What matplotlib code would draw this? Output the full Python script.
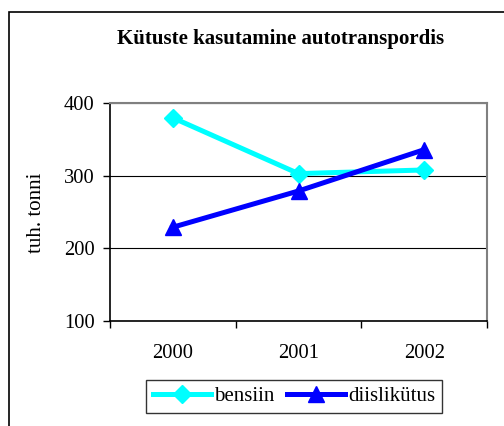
import matplotlib
matplotlib.use("Agg")
import matplotlib.pyplot as plt
from matplotlib.patches import Rectangle

years = ["2000", "2001", "2002"]
bensiin = [380, 303, 308]
diislikutus = [229, 279, 336]
yticks = [100, 200, 300, 400]

plt.rcParams['font.family'] = ['Liberation Serif', 'DejaVu Serif']

W, H = 504, 426
fig = plt.figure(figsize=(W / 100, H / 100), dpi=100)
# outer chart frame (right and bottom edges fall outside the image)
fig.patches.append(Rectangle((8.5 / W, -0.05), 1.2, 1 - 11.5 / H + 0.05,
                             transform=fig.transFigure, fill=False,
                             edgecolor='black', linewidth=1.2))

left, right, top, bottom = 110, 487, 103.3, 320.7
ax = fig.add_axes([left / W, 1 - bottom / H, (right - left) / W, (bottom - top) / H])

x = list(range(len(years)))
ax.plot(x, bensiin, color='#00FFFF', linewidth=3.6, marker='D', markersize=9.5,
        label='bensiin', solid_joinstyle='round', zorder=3)
ax.plot(x, diislikutus, color='#0000FF', linewidth=3.6, marker='^', markersize=11,
        label='diislikütus', solid_joinstyle='round', zorder=4)

ax.set_xlim(-0.5, 2.5)
ax.set_ylim(100, 400)
ax.set_yticks(yticks)
ax.set_yticklabels([str(v) for v in yticks], fontsize=14.8)
ax.set_xticks([-0.5, 0.5, 1.5, 2.5])
ax.set_xticklabels([])
ax.set_xticks(x, minor=True)
ax.set_xticklabels(years, minor=True, fontsize=14.8)
ax.tick_params(axis='x', which='minor', length=0, pad=17)
ax.tick_params(axis='x', which='major', length=5, direction='out', width=1)
ax.tick_params(axis='y', length=5, direction='out', width=1, pad=6)
ax.grid(axis='y', color='black', linewidth=0.8)
ax.set_axisbelow(True)
for s in ['top', 'right']:
    ax.spines[s].set_color('#808080')
    ax.spines[s].set_linewidth(1.5)
for s in ['left', 'bottom']:
    ax.spines[s].set_color('black')
    ax.spines[s].set_linewidth(1.2)

ax.set_ylabel('tuh. tonni', fontsize=15)
ax.yaxis.set_label_coords(46 / W, 1 - 213 / H, transform=fig.transFigure)

fig.text(281 / W, 1 - 39 / H, 'Kütuste kasutamine autotranspordis', ha='center', va='center',
         fontsize=15, fontweight='bold')

leg = fig.legend(loc='center', bbox_to_anchor=(294 / W, 1 - 396.5 / H), ncol=2,
                 fontsize=15, frameon=True, fancybox=False, edgecolor='black',
                 handlelength=2.8, handletextpad=0.15, columnspacing=0.6,
                 borderpad=0.3, borderaxespad=0)
leg.get_frame().set_linewidth(1.0)

fig.savefig('out.png', dpi=100)
